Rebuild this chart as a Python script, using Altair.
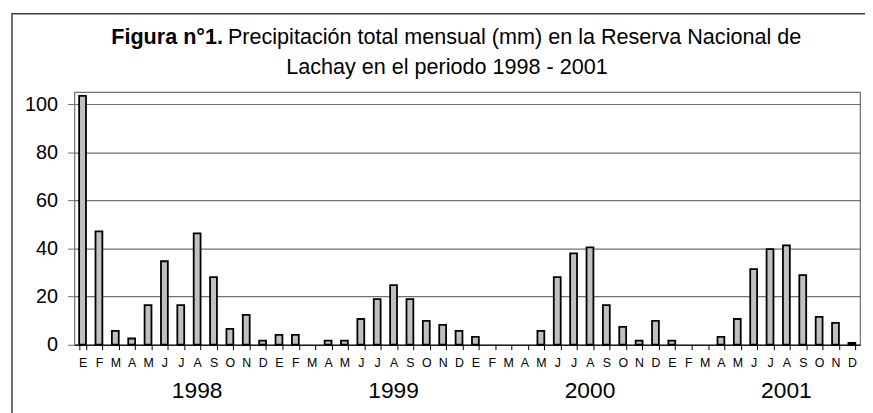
import json
import altair as alt
import pandas as pd

months = ["E", "F", "M", "A", "M", "J", "J", "A", "S", "O", "N", "D"]
years = ["1998", "1999", "2000", "2001"]
p1998 = [103.4, 47.1, 5.8, 2.6, 16.5, 34.7, 16.5, 46.3, 28.1, 6.6, 12.4, 1.7]
p1999 = [4.1, 4.1, 0.0, 1.7, 1.7, 10.7, 19.0, 24.8, 19.0, 9.9, 8.3, 5.8]
p2000 = [3.3, 0.0, 0.0, 0.0, 5.8, 28.1, 38.0, 40.5, 16.5, 7.4, 1.7, 9.9]
p2001 = [1.7, 0.0, 0.0, 3.3, 10.7, 31.4, 39.7, 41.3, 28.9, 11.6, 9.1, 0.8]

title_bold = "Figura n°1."
title_rest = "Precipitación total mensual (mm) en la Reserva Nacional de"
title_line2 = "Lachay en el periodo 1998 - 2001"

series = [p1998, p1999, p2000, p2001]
rows = []
for yi, (yr, vals) in enumerate(zip(years, series)):
    for mi, v in enumerate(vals):
        rows.append({"idx": yi * 12 + mi, "mes": months[mi], "anio": yr, "pp": v})
df = pd.DataFrame(rows)
df_years = pd.DataFrame({"anio": years, "idx": [i * 12 + 7 for i in range(len(years))]})

W, H = 793, 255
FONT = "Liberation Sans"

xscale = alt.Scale(domain=list(range(48)), paddingInner=0.58, paddingOuter=0.29)
label_expr = json.dumps(months) + "[datum.value % 12]"

bars = alt.Chart(df).transform_filter("datum.pp > 0").mark_bar(
    fill="#c0c0c0", stroke="black", strokeWidth=1.8).encode(
    x=alt.X("idx:O", scale=xscale,
            axis=alt.Axis(title=None, labelExpr=label_expr, labelAngle=0, tickBand="extent",
                          domainColor="black", tickColor="black", tickSize=5,
                          labelFontSize=12.5, labelFont=FONT, labelColor="black",
                          labelPadding=7, grid=False)),
    y=alt.Y("pp:Q", scale=alt.Scale(domain=[0, 105], nice=False),
            axis=alt.Axis(title=None, values=[0, 20, 40, 60, 80, 100], grid=True,
                          gridColor="#707070", gridWidth=1.2, domain=False,
                          tickColor="#707070", tickSize=7, labelPadding=10,
                          labelFontSize=20, labelFont=FONT, labelColor="black")),
)

year_text = alt.Chart(df_years).mark_text(fontSize=23, font=FONT, color="black",
                                          baseline="middle", align="center").encode(
    x=alt.X("idx:O", scale=xscale),
    y=alt.value(H + 47),
    text="anio:N",
)

tdf = pd.DataFrame({"a": [title_bold], "b": [title_rest], "c": [title_line2]})
t1 = alt.Chart(tdf).mark_text(fontSize=21.8, font=FONT, fontWeight="bold", align="right",
                              baseline="alphabetic", color="black").encode(
    x=alt.value(150), y=alt.value(-49), text="a:N")
t2 = alt.Chart(tdf).mark_text(fontSize=21.8, font=FONT, align="left",
                              baseline="alphabetic", color="black").encode(
    x=alt.value(155), y=alt.value(-49), text="b:N")
t3 = alt.Chart(tdf).mark_text(fontSize=21.8, font=FONT, align="center",
                              baseline="alphabetic", color="black").encode(
    x=alt.value(376), y=alt.value(-18), text="c:N")

frame = alt.Chart(tdf).mark_rect(fillOpacity=0, stroke="#404040", strokeWidth=1.5).encode(
    x=alt.value(-63), x2=alt.value(W + 60), y=alt.value(-79), y2=alt.value(H + 120))

chart = alt.layer(frame, bars, year_text, t1, t2, t3).resolve_scale(x="shared").properties(
    width=W, height=H,
    autosize=alt.AutoSizeParams(type="none"),
    padding={"left": 67, "top": 83, "right": 5, "bottom": 67},
    background="white",
).configure_view(stroke="#707070", strokeWidth=1.2)

chart.save("out.html", embed_options={"renderer": "svg", "actions": False})
